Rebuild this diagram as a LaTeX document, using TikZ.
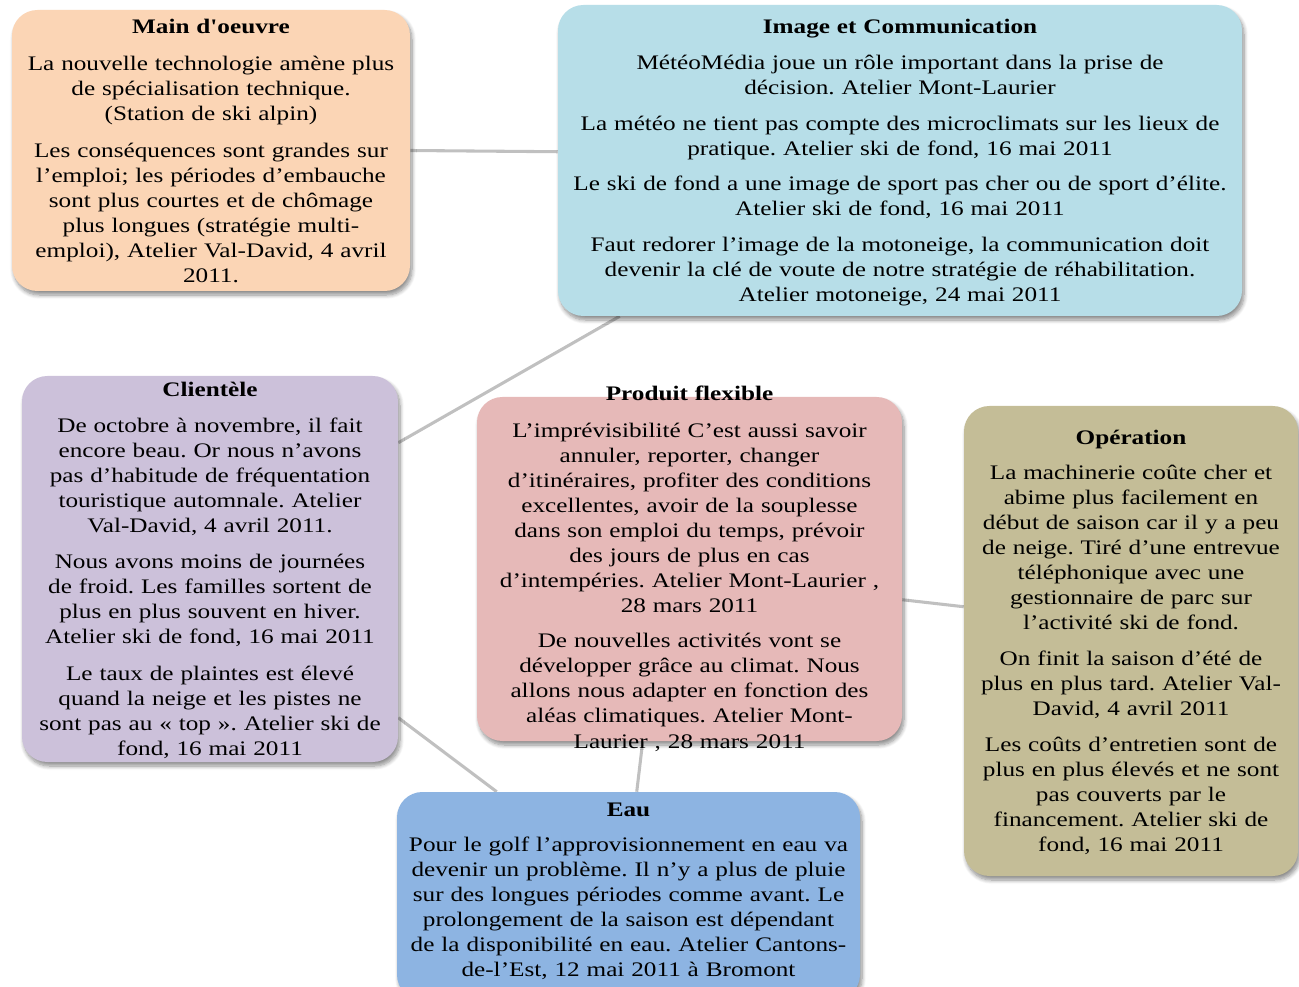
\documentclass[tikz,border=0pt]{standalone}
\usepackage{fontspec}
\setmainfont[FakeStretch=1.22]{Liberation Serif}
\newfontfamily\straightfont[FakeStretch=1.22,Ligatures=TeXOff]{Liberation Serif}
\usetikzlibrary{shadows.blur,calc}
\pgfdeclarelayer{bg}
\pgfsetlayers{bg,main}
\frenchspacing
\definecolor{cpeach}{HTML}{FBD5B5}
\definecolor{cimg}{HTML}{B7DEE8}
\definecolor{ccli}{HTML}{CCC1DA}
\definecolor{cprod}{HTML}{E6B9B8}
\definecolor{cop}{HTML}{C4BD97}
\definecolor{ceau}{HTML}{8DB4E2}
\definecolor{linkgray}{HTML}{C0C0C0}
\tikzset{
  box/.style={draw=none, rounded corners=19pt, inner sep=0pt,
    blur shadow={shadow xshift=1.5pt, shadow yshift=-3pt, shadow blur steps=8, shadow opacity=45, shadow blur radius=3pt}},
  txt/.style={align=center, anchor=base, inner sep=0pt, font=\fontsize{15.5}{18.75}\selectfont\frenchspacing},
  link/.style={draw=linkgray, line width=2.3pt},
}
\begin{document}
\begin{tikzpicture}[x=0.75pt,y=-0.75pt]
\useasboundingbox (0,0) rectangle (1299,987);
% boxes
\node[box, fill=cpeach, minimum width=298.5pt, minimum height=210.75pt] (main) at (211,150.5) {};
\node[box, fill=cimg, minimum width=513pt, minimum height=233.25pt] (img) at (900,160.5) {};
\node[box, fill=ccli, minimum width=282pt, minimum height=289.5pt] (cli) at (210,569) {};
\node[box, fill=cprod, minimum width=318.75pt, minimum height=258pt] (prod) at (689.5,569) {};
\node[box, fill=cop, minimum width=250.5pt, minimum height=352.5pt] (op) at (1131,641) {};
\node[box, fill=ceau, minimum width=347.25pt, minimum height=156pt] (eau) at (628.5,896) {};
% connectors
\begin{pgfonlayer}{bg}
\draw[link] (main.east) -- ($(img.north west)+(0,147)$);
\draw[link] ($(img.south west)+(62,0)$) -- ($(cli.north east)+(0,67)$);
\draw[link] ($(cli.north east)+(0,342)$) -- ($(eau.north west)+(100,0)$);
\draw[link] ($(prod.south west)+(166,0)$) -- ($(eau.north west)+(240,0)$);
\draw[link] ($(prod.north east)+(0,203)$) -- ($(op.north west)+(0,201)$);
\end{pgfonlayer}
% texts
\node[txt, text width=298pt] (maint) at (211,34) {\textbf{Main d{\straightfont'}oeuvre}\\[8.5pt]
La nouvelle technologie amène plus\\ de spécialisation technique.\\ (Station de ski alpin)\\[9pt]
Les conséquences sont grandes sur\\ l’emploi; les périodes d’embauche\\ sont plus courtes et de chômage\\ plus longues (stratégie multi-\\ emploi), Atelier Val-David, 4 avril\\ 2011.};
\node[txt, text width=512pt] (imgt) at (900,34) {\textbf{Image et Communication}\\[8pt]
MétéoMédia joue un rôle important dans la prise de\\ décision. Atelier Mont-Laurier\\[8pt]
La météo ne tient pas compte des microclimats sur les lieux de\\ pratique. Atelier ski de fond, 16 mai 2011\\[8pt]
Le ski de fond a une image de sport pas cher ou de sport d’élite.\\ Atelier ski de fond, 16 mai 2011\\[8pt]
Faut redorer l’image de la motoneige, la communication doit\\ devenir la clé de voute de notre stratégie de réhabilitation.\\ Atelier motoneige, 24 mai 2011};
\node[txt, text width=282pt] (clit) at (210,397) {\textbf{Clientèle}\\[8pt]
De octobre à novembre, il fait\\ encore beau. Or nous n’avons\\ pas d’habitude de fréquentation\\ touristique automnale. Atelier\\ Val-David, 4 avril 2011.\\[8.5pt]
Nous avons moins de journées\\ de froid. Les familles sortent de\\ plus en plus souvent en hiver.\\ Atelier ski de fond, 16 mai 2011\\[8.5pt]
Le taux de plaintes est élevé\\ quand la neige et les pistes ne\\ sont pas au «~top~». Atelier ski de\\ fond, 16 mai 2011};
\node[txt, text width=318pt] (prodt) at (689.5,401) {\textbf{Produit flexible}\\[8.5pt]
L’imprévisibilité C’est aussi savoir\\ annuler, reporter, changer\\ d’itinéraires, profiter des conditions\\ excellentes, avoir de la souplesse\\ dans son emploi du temps, prévoir\\ des jours de plus en cas\\ d’intempéries. Atelier Mont-Laurier ,\\ 28 mars 2011\\[8pt]
De nouvelles activités vont se\\ développer grâce au climat. Nous\\ allons nous adapter en fonction des\\ aléas climatiques. Atelier Mont-\\ Laurier , 28 mars 2011};
\node[txt, text width=250pt] (opt) at (1131,444) {\textbf{Opération}\\[8pt]
La machinerie coûte cher et\\ abime plus facilement en\\ début de saison car il y a peu\\ de neige. Tiré d’une entrevue\\ téléphonique avec une\\ gestionnaire de parc sur\\ l’activité ski de fond.\\[8pt]
On finit la saison d’été de\\ plus en plus tard. Atelier Val-\\ David, 4 avril 2011\\[8pt]
Les coûts d’entretien sont de\\ plus en plus élevés et ne sont\\ pas couverts par le\\ financement. Atelier ski de\\ fond, 16 mai 2011};
\node[txt, text width=347pt] (eaut) at (628.5,816) {\textbf{Eau}\\[8pt]
Pour le golf l’approvisionnement en eau va\\ devenir un problème. Il n’y a plus de pluie\\ sur des longues périodes comme avant. Le\\ prolongement de la saison est dépendant\\ de la disponibilité en eau. Atelier Cantons-\\ de-l’Est, 12 mai 2011 à Bromont};
\end{tikzpicture}
\end{document}
